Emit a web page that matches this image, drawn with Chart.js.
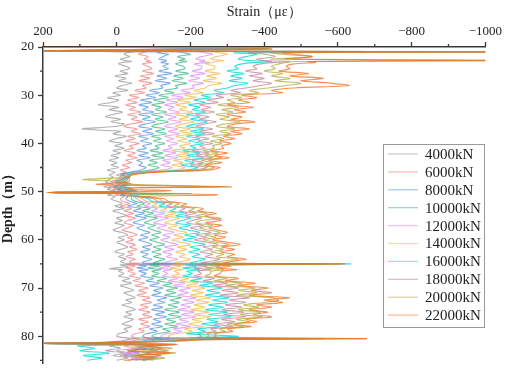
<!DOCTYPE html>
<html>
<head>
<meta charset="utf-8">
<script src="https://cdn.jsdelivr.net/npm/chart.js@4.4.1/dist/chart.umd.min.js"></script>
<style>
html,body{margin:0;padding:0;background:#fff;}
#wrap{width:505px;height:375px;}
</style>
</head>
<body>
<div id="wrap"><canvas id="c" width="505" height="375"></canvas></div>
<script>
// Depth (m) sampling points shared by all load cases
const depthM = [
  20.0, 20.2, 20.5, 20.8, 21.0, 21.2, 21.5, 22.0, 22.5, 22.8, 23.0, 23.2, 23.5, 24.0,
  24.5, 25.0, 25.5, 26.0, 26.5, 27.0, 27.5, 28.0, 28.5, 29.0, 29.5, 30.0, 30.5, 31.0, 31.5, 32.0,
  32.5, 33.0, 33.5, 34.0, 34.5, 35.0, 35.5, 36.0, 36.5, 37.0, 37.5, 38.0, 38.5, 39.0, 39.5, 40.0,
  40.5, 41.0, 41.5, 42.0, 42.5, 43.0, 43.5, 44.0, 44.5, 45.0, 45.5, 46.0, 46.5, 47.0,
  47.5, 48.0, 48.5, 49.0, 49.2, 49.5, 49.8, 50.0, 50.2, 50.4, 50.7, 51.0, 51.5,
  52.0, 52.5, 53.0, 53.5, 54.0, 54.5, 55.0, 55.5, 56.0, 56.5, 57.0, 57.5, 58.0, 58.5, 59.0, 59.5,
  60.0, 60.5, 61.0, 61.5, 62.0, 62.5, 63.0, 63.5, 64.0, 64.5,
  64.8, 65.0, 65.2, 65.5, 65.8, 66.0, 66.2, 66.5,
  67.0, 67.5, 68.0, 68.5, 69.0, 69.5, 70.0, 70.5, 71.0, 71.5, 72.0, 72.5, 73.0, 73.5, 74.0, 74.5,
  75.0, 75.5, 76.0, 76.5, 77.0, 77.5, 78.0, 78.5, 79.0, 79.5, 80.0,
  80.3, 80.5, 80.7, 81.0, 81.3, 81.5, 81.7, 82.0, 82.5, 83.0, 83.5, 84.0, 84.5, 85.0
];

const loadLabels = ['4000kN','6000kN','8000kN','10000kN','12000kN','14000kN','16000kN','18000kN','20000kN','22000kN'];

// Strain (με) per load case, one value per depth point
const strain4000 = [
  200, -380, -60, 210, -45, -30, -20, -35, -10, -25, -40, -15, -5, -25,
  -35, -10, -30, 5, -25, -5, -40, -15, 0, -30, 10, -10, 25, -5, 15, 50, -5, 20, -15, 10, 30, -10, 15, -20, 5, 95, -10, 10, -25, 0, 20, -15, 5, -20, 10, -10, 15, -5, 20, 0, 15, -5, 25, 5, 20, 10,
  20, 30, 10, 35, 15, 25, 5, 30, 180, 10, 25, 5, 15,
  0, -15, 5, -20, 10, -10, -25, 0, -15, 5, -20, -5, 10, -15, -30, -5, -20, 0, -15, -30, -10, 5, -20, -5, -25, -10,
  -20, -60, -10, -30, 0, 19, -15, -5,
  -20, -5, -35, -15, -40, -10, -30, -45, -20, -35, -50, -25, -40, -15, -35, -50, -25, -40, -20, -45, -30, -15, -40, -20, -30, -5, 0,
  -20, -60, -30, -10, 60, 210, -40, 20, -10, 30, -20, 10, -30, 0
];
const strain6000 = [
  200, -390, -90, 210, -80, -70, -60, -85, -75, -90, -80, -95, -70, -85,
  -95, -70, -100, -65, -90, -60, -95, -70, -80, -50, -75, -35, -60, -30, -55, -25, -50, -35, -65, -30, -55, -40, -70, -35, -20, -55, -40, -65, -30, -50, -25, -60, -35, -45, -20, -50, -30, -55, -25, -40, -15, -35, -10, -25, 0, -15,
  0, 15, -10, 20, -5, 10, -15, 5, 175, -10, 5, -20, -10,
  -15, -35, -10, -40, -20, -45, -25, -50, -30, -20, -45, -30, -15, -40, -55, -30, -45, -25, -50, -35, -55, -30, -45, -25, -50, -35,
  -40, -250, -30, -50, -25, -35, -45, -30,
  -50, -35, -65, -45, -75, -50, -85, -60, -80, -55, -90, -70, -95, -65, -85, -60, -90, -70, -95, -60, -85, -65, -90, -60, -75, -50, -40,
  -50, -120, -60, -40, 50, 215, -70, -20, -50, 0, -40, -10, -60, -30
];
const strain8000 = [
  210, -400, -130, 220, -120, -110, -140, -125, -115, -135, -130, -120, -140, -125,
  -140, -115, -150, -110, -135, -105, -145, -120, -125, -90, -115, -80, -105, -65, -95, -60, -85, -70, -100, -60, -90, -70, -105, -75, -60, -95, -70, -100, -60, -85, -65, -95, -70, -80, -55, -85, -60, -90, -55, -70, -60, -80, -65, -35, -10, -25,
  -10, 5, -20, 10, -15, 0, -25, -5, 185, -20, -10, -30, -25,
  -35, -55, -30, -65, -45, -75, -50, -80, -60, -45, -75, -55, -70, -90, -65, -85, -60, -80, -95, -70, -90, -65, -85, -70, -95, -75,
  -70, -330, -60, -80, -55, -70, -85, -60,
  -80, -65, -100, -80, -115, -90, -125, -100, -120, -95, -135, -110, -130, -100, -125, -95, -130, -105, -135, -100, -120, -95, -125, -90, -110, -80, -70,
  -80, -200, -90, -70, 40, 220, -100, -50, -80, -30, -60, -20, -90, -50
];
const strain10000 = [
  210, -395, -170, 220, -160, -180, -200, -165, -185, -170, -190, -175, -160, -180,
  -185, -160, -195, -155, -180, -150, -190, -160, -165, -130, -155, -115, -140, -100, -130, -95, -120, -105, -135, -95, -125, -105, -140, -110, -95, -130, -105, -135, -95, -120, -100, -130, -105, -115, -90, -125, -95, -130, -90, -110, -85, -115, -95, -50, -15, -30,
  -15, 0, -25, 5, -20, -5, -30, -10, 170, -25, -15, -40, -40,
  -50, -75, -55, -90, -70, -100, -75, -110, -90, -75, -105, -85, -100, -120, -95, -115, -90, -110, -130, -100, -120, -95, -120, -100, -130, -110,
  -100, -400, -90, -115, -85, -100, -120, -95,
  -115, -95, -135, -110, -150, -125, -165, -135, -160, -130, -175, -145, -170, -140, -165, -130, -170, -140, -175, -135, -160, -130, -165, -125, -145, -110, -95,
  -110, -280, -120, -90, 30, 210, -130, -70, -100, -40, -90, -50, -110, -70
];
const strain12000 = [
  200, -405, -220, 230, -210, -240, -260, -230, -215, -240, -225, -250, -210, -230,
  -230, -205, -240, -200, -225, -195, -235, -205, -210, -175, -200, -150, -180, -135, -165, -130, -155, -140, -170, -130, -160, -140, -175, -145, -130, -165, -140, -170, -130, -155, -135, -165, -140, -150, -125, -160, -130, -165, -125, -145, -120, -150, -125, -60, -20, -35,
  -20, -5, -30, 0, -25, -10, -35, -15, 180, -30, -20, -45, -55,
  -65, -90, -75, -110, -95, -130, -100, -140, -115, -100, -135, -110, -130, -155, -125, -145, -120, -140, -165, -130, -155, -125, -150, -135, -165, -140,
  -130, -450, -120, -145, -115, -130, -150, -125,
  -140, -125, -165, -140, -185, -155, -200, -170, -195, -165, -215, -180, -210, -175, -200, -165, -210, -175, -215, -170, -195, -160, -200, -155, -175, -135, -120,
  -130, -350, -140, -110, 20, 225, -150, -90, -60, -110, -20, -120, -40, -80
];
const strain14000 = [
  200, -400, -260, 230, -250, -280, -300, -270, -255, -290, -270, -260, -240, -265,
  -265, -240, -280, -245, -270, -235, -285, -250, -240, -210, -235, -185, -215, -165, -200, -160, -190, -170, -205, -160, -195, -170, -210, -175, -160, -200, -170, -205, -160, -190, -165, -200, -170, -185, -150, -195, -160, -200, -155, -180, -150, -185, -160, -70, -25, -20,
  -25, -10, -35, -5, -30, -15, -40, -20, 185, -35, -25, -50, -70,
  -80, -110, -95, -135, -120, -160, -130, -170, -145, -130, -165, -140, -160, -190, -155, -180, -150, -175, -200, -165, -190, -160, -185, -170, -200, -175,
  -160, -500, -150, -175, -145, -160, -180, -155,
  -170, -150, -195, -170, -220, -190, -240, -205, -235, -200, -255, -215, -250, -210, -240, -200, -250, -210, -255, -205, -230, -195, -235, -185, -205, -160, -140,
  -150, -400, -160, -130, 10, 215, -120, -40, -130, -70, -150, -30, -100, -60
];
const strain16000 = [
  210, -410, -300, 240, -1050, -320, -380, -350, -330, -360, -420, -380, -340, -320,
  -330, -300, -345, -310, -340, -305, -355, -320, -300, -265, -290, -230, -255, -210, -240, -195, -225, -205, -240, -190, -225, -200, -245, -210, -190, -235, -200, -240, -190, -225, -195, -235, -200, -215, -180, -225, -190, -235, -185, -210, -175, -220, -190, -80, -30, -35,
  -20, -15, -30, -10, -35, -20, -45, -25, 175, -150, -30, -55, -85,
  -95, -130, -115, -160, -145, -190, -160, -200, -175, -160, -200, -170, -195, -225, -185, -215, -180, -210, -240, -200, -225, -195, -225, -205, -240, -215,
  -200, -635, -190, -215, -180, -200, -225, -190,
  -205, -180, -230, -200, -260, -225, -285, -245, -280, -240, -305, -260, -300, -250, -290, -240, -300, -250, -310, -245, -275, -230, -280, -220, -240, -190, -330,
  -200, -514, -180, -140, 0, 220, -80, 105, 60, 100, 20, 90, 40, 80
];
const strain18000 = [
  210, -400, -340, 240, -1050, -360, -400, -430, -380, -400, -470, -430, -390, -370,
  -380, -350, -395, -360, -400, -370, -420, -390, -350, -310, -335, -270, -290, -245, -275, -225, -255, -230, -265, -215, -250, -225, -270, -235, -215, -260, -225, -265, -215, -250, -220, -260, -225, -240, -205, -250, -215, -260, -205, -235, -200, -245, -210, -90, -35, -25,
  -30, -20, -40, -15, -40, -25, -50, -30, 180, -40, -35, -60, -100,
  -110, -150, -135, -185, -170, -215, -185, -230, -205, -190, -235, -200, -225, -255, -215, -245, -210, -245, -275, -235, -260, -225, -260, -240, -280, -250,
  -230, -560, -215, -245, -210, -230, -255, -220,
  -230, -210, -265, -235, -300, -260, -330, -285, -330, -280, -360, -305, -350, -295, -340, -285, -345, -290, -350, -285, -320, -265, -315, -255, -270, -220, -230,
  -220, -560, -200, -150, -10, 210, -160, -110, -50, -140, -80, -120, -60, -100
];
const strain20000 = [
  220, -410, -380, 250, -1050, -420, -450, -530, -420, -1050, -480, -460, -440, -420,
  -430, -400, -450, -420, -470, -430, -500, -460, -410, -360, -385, -310, -340, -300, -320, -275, -330, -285, -315, -270, -305, -280, -335, -290, -270, -320, -280, -310, -260, -290, -255, -285, -260, -265, -235, -275, -240, -285, -230, -260, -220, -265, -235, -100, -40, -35,
  92, -25, -45, -300, -45, -30, -55, -35, 190, -200, -40, -65, -115,
  -125, -170, -155, -210, -195, -245, -215, -283, -230, -215, -260, -225, -250, -280, -240, -270, -235, -270, -305, -260, -290, -255, -290, -270, -330, -280,
  -260, -610, -245, -280, -240, -265, -290, -255,
  -255, -240, -300, -265, -340, -295, -375, -330, -380, -325, -420, -440, -400, -345, -385, -330, -390, -335, -395, -325, -360, -300, -345, -280, -295, -245, -250,
  -240, -678, -220, -160, -20, 225, -140, -60, -150, -90, -160, -40, -130, -70
];
const strain22000 = [
  220, -420, -420, 250, -1050, -450, -480, -530, -460, -1050, -520, -540, -480, -460,
  -470, -440, -520, -470, -560, -500, -580, -630, -480, -420, -450, -340, -380, -330, -360, -300, -370, -320, -350, -300, -340, -310, -375, -320, -300, -360, -310, -340, -290, -320, -280, -310, -285, -290, -255, -300, -265, -305, -250, -285, -240, -280, -255, -110, -45, -30,
  -35, -30, 54, -311, -50, -35, -148, -40, 185, -140, -273, -70, -130,
  -140, -190, -175, -235, -220, -270, -240, -260, -283, -240, -285, -250, -275, -300, -265, -295, -260, -300, -335, -285, -320, -280, -320, -300, -351, -310,
  -290, -620, -270, -310, -270, -300, -325, -285,
  -280, -265, -330, -295, -375, -330, -410, -365, -420, -360, -468, -400, -450, -380, -420, -360, -410, -370, -420, -350, -380, -320, -365, -300, -315, -265, -270,
  -260, -678, -240, -170, -30, 230, -162, -80, -120, -30, -143, -60, -100, -20
];

const strainSeries = [strain4000, strain6000, strain8000, strain10000, strain12000,
                      strain14000, strain16000, strain18000, strain20000, strain22000];

const strainTicks = [200, 0, -200, -400, -600, -800, -1000];
const strainMinorTicks = [100, -100, -300, -500, -700, -900];
const depthTicks = [20, 30, 40, 50, 60, 70, 80];
const depthMinorTicks = [25, 35, 45, 55, 65, 75, 85];

const lineColors = [
  'rgba(150,150,150,0.75)',
  'rgba(240,115,115,0.7)',
  'rgba(70,135,225,0.7)',
  'rgba(40,175,120,0.7)',
  'rgba(215,130,240,0.7)',
  'rgba(240,180,70,0.75)',
  'rgba(0,215,215,0.8)',
  'rgba(185,120,140,0.7)',
  'rgba(175,165,55,0.75)',
  'rgba(240,110,30,0.75)'
];
const legendColors = [
  'rgba(150,150,150,0.5)',
  'rgba(240,115,115,0.5)',
  'rgba(70,135,225,0.5)',
  'rgba(40,175,120,0.5)',
  'rgba(215,130,240,0.5)',
  'rgba(240,180,70,0.5)',
  'rgba(0,215,215,0.5)',
  'rgba(185,120,140,0.5)',
  'rgba(175,165,55,0.5)',
  'rgba(240,110,30,0.5)'
];

strainSeries.forEach((s, i) => {
  if (s.length !== depthM.length) throw new Error(loadLabels[i] + ' length ' + s.length + ' vs ' + depthM.length);
});

const SERIF = '"Liberation Serif", "Times New Roman", serif';
Chart.defaults.font.family = SERIF;
Chart.defaults.color = '#222';

const datasets = strainSeries.map((s, i) => ({
  label: loadLabels[i],
  data: s.map((v, j) => ({ x: v, y: depthM[j] })),
  borderColor: lineColors[i],
  backgroundColor: lineColors[i],
  borderWidth: 1.1,
  pointRadius: 0,
  showLine: true,
  fill: false,
  tension: 0.3,
  order: strainSeries.length - i
}));

const decor = {
  id: 'decor',
  afterDraw(chart) {
    const ctx = chart.ctx, xs = chart.scales.x, ys = chart.scales.y;
    ctx.save();
    ctx.strokeStyle = '#3a3a3a';
    ctx.lineWidth = 1.3;
    ctx.beginPath();
    strainMinorTicks.forEach(v => {
      const px = xs.getPixelForValue(v);
      ctx.moveTo(px, ys.top); ctx.lineTo(px, ys.top - 3);
    });
    depthMinorTicks.forEach(v => {
      const py = ys.getPixelForValue(v);
      if (py <= ys.bottom) { ctx.moveTo(xs.left, py); ctx.lineTo(xs.left - 3, py); }
    });
    ctx.stroke();

    // legend box
    const bx = 383.5, by = 144.5, bw = 101, bh = 183;
    ctx.fillStyle = '#fff';
    ctx.fillRect(bx, by, bw, bh);
    ctx.strokeStyle = '#9a9a9a';
    ctx.lineWidth = 1;
    ctx.strokeRect(bx, by, bw, bh);
    ctx.font = '15px ' + SERIF;
    ctx.textBaseline = 'middle';
    ctx.textAlign = 'left';
    loadLabels.forEach((lab, i) => {
      const y = 154 + i * 17.9;
      ctx.strokeStyle = legendColors[i];
      ctx.lineWidth = 1.2;
      ctx.beginPath(); ctx.moveTo(388, y); ctx.lineTo(418, y); ctx.stroke();
      ctx.fillStyle = '#222';
      ctx.fillText(lab, 425, y + 1);
    });
    ctx.restore();
  }
};

new Chart(document.getElementById('c'), {
  type: 'scatter',
  data: { datasets },
  options: {
    responsive: false,
    animation: false,
    devicePixelRatio: 1,
    layout: { padding: { left: 0, right: 18, top: 0, bottom: 0 } },
    plugins: { legend: { display: false }, tooltip: { enabled: false } },
    scales: {
      x: {
        type: 'linear',
        position: 'top',
        min: -1000, max: 200,
        reverse: true,
        afterFit(s) { s.height = 47; },
        afterBuildTicks(s) { s.ticks = strainTicks.map(v => ({ value: v })); },
        ticks: {
          font: { size: 13, family: SERIF },
          color: '#222',
          padding: 3,
          maxRotation: 0,
          callback: v => (v < 0 ? '\u2212' + Math.abs(v) : String(v))
        },
        grid: { drawOnChartArea: false, drawTicks: true, tickLength: 5, tickColor: '#3a3a3a', tickWidth: 1.3 },
        border: { display: true, color: '#3a3a3a', width: 1.5 },
        title: { display: true, text: 'Strain（με）', font: { size: 14, family: SERIF }, color: '#222', padding: { top: 4, bottom: 0 } }
      },
      y: {
        type: 'linear',
        position: 'left',
        min: 20, max: 85.6,
        reverse: true,
        afterFit(s) { s.width = 43; },
        afterBuildTicks(s) { s.ticks = depthTicks.map(v => ({ value: v })); },
        ticks: { font: { size: 13, family: SERIF }, color: '#222', padding: 4 },
        grid: { drawOnChartArea: false, drawTicks: true, tickLength: 5, tickColor: '#3a3a3a', tickWidth: 1.3 },
        border: { display: true, color: '#3a3a3a', width: 1.5 },
        title: { display: true, text: 'Depth（m）', font: { size: 14, weight: 'bold', family: SERIF }, color: '#222', padding: { top: 0, bottom: 2 } }
      }
    }
  },
  plugins: [decor]
});
</script>
</body>
</html>
